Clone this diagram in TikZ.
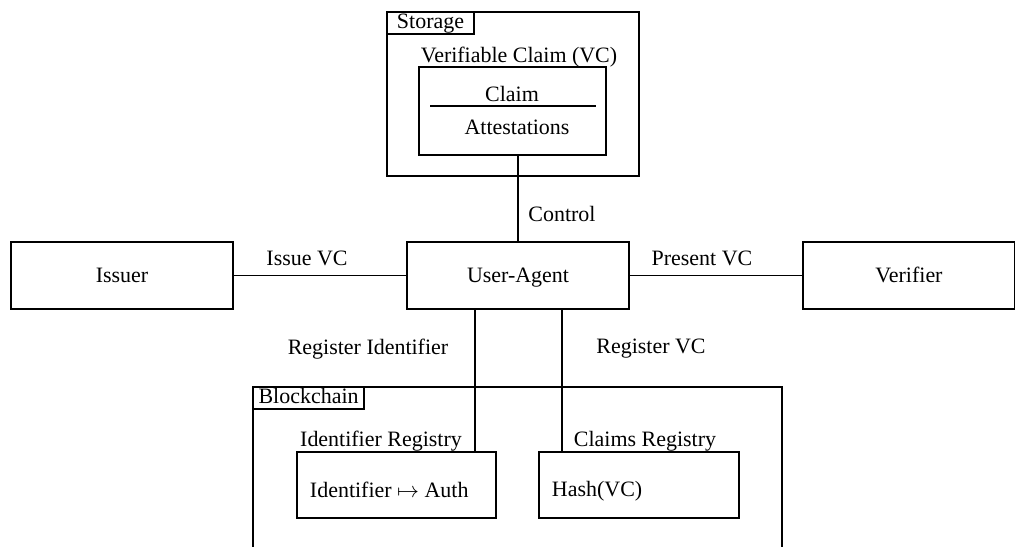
\documentclass[tikz,border=0pt]{standalone}
\usepackage{amsmath}
\usepackage{fontspec}
\setmainfont{Liberation Serif}
\usetikzlibrary{positioning}

\begin{document}
\begin{tikzpicture}[x=0.016cm, y=-0.016cm, line width=0.9pt]
            \tikzset{
                box/.style={draw, rectangle, inner sep=0pt},
                agent/.style={box, minimum width=3.552cm, minimum height=1.072cm, text depth=0.5pt},
                tab/.style={draw, rectangle, inner xsep=2.5pt, inner ysep=0.4pt, text height=7.3pt, text depth=2.1pt, anchor=north west},
                lbl/.style={inner sep=0pt}
            };
            \useasboundingbox (0, 0) rectangle (1015, 547);
            \clip (0, 0) rectangle (1015, 547);
            % storage with the verifiable claim
            \node[box, minimum width=4.032cm, minimum height=2.624cm] (storage) at (513, 94) {};
            \node[tab, minimum width=1.392cm] (storagetab) at (storage.north west) {Storage};
            \node[box, minimum width=2.992cm, minimum height=1.408cm] (vc) at (512.5, 111) {};
            \node[lbl] (vclbl) at (519, 57) {Verifiable Claim (VC)};
            \node[lbl] (claim) at (512, 94) {Claim};
            \node[lbl] (attest) at (517, 127) {Attestations};
            \draw (430, 106) -- (596, 106);
            % parties
            \node[agent] (agent) at (518, 275.5) {User-Agent};
            \node[agent] (issuer) at (122, 275.5) {Issuer};
            \node[agent, minimum width=3.392cm] (verifier) at (909, 275.5) {Verifier};
            \draw (agent.north |- vc.south) -- (agent.north);
            \draw (issuer.east) -- (agent.west);
            \draw (agent.east) -- (verifier.west);
            \node[lbl] (ctrl) at (562, 214) {Control};
            \node[lbl] (issue) at (307, 258) {Issue VC};
            \node[lbl] (present) at (702, 258) {Present VC};
            % blockchain
            \node[box, minimum width=8.464cm, minimum height=3.408cm] (chain) at (517.5, 493.5) {};
            \node[tab] (chaintab) at (chain.north west) {Blockchain};
            \node[box, minimum width=3.184cm, minimum height=1.056cm] (idreg) at (396.5, 485) {};
            \node[box, minimum width=3.2cm, minimum height=1.056cm] (clreg) at (639, 485) {};
            \node[lbl] (idreglbl) at (381, 441) {Identifier Registry};
            \node[lbl] (clreglbl) at (645, 441) {Claims Registry};
            \node[lbl, anchor=west] (idmap) at (309, 490) {Identifier \(\mapsto\) Auth};
            \node[lbl, anchor=west] (hash) at (551, 491) {Hash(VC)};
            \coordinate (idin) at (475, 452);
            \coordinate (clin) at (562, 452);
            \draw (agent.south -| idin) -- (idin);
            \draw (agent.south -| clin) -- (clin);
            \node[lbl] (regid) at (368, 349) {Register Identifier};
            \node[lbl] (regvc) at (651, 349) {Register VC};
        \end{tikzpicture}
\end{document}
